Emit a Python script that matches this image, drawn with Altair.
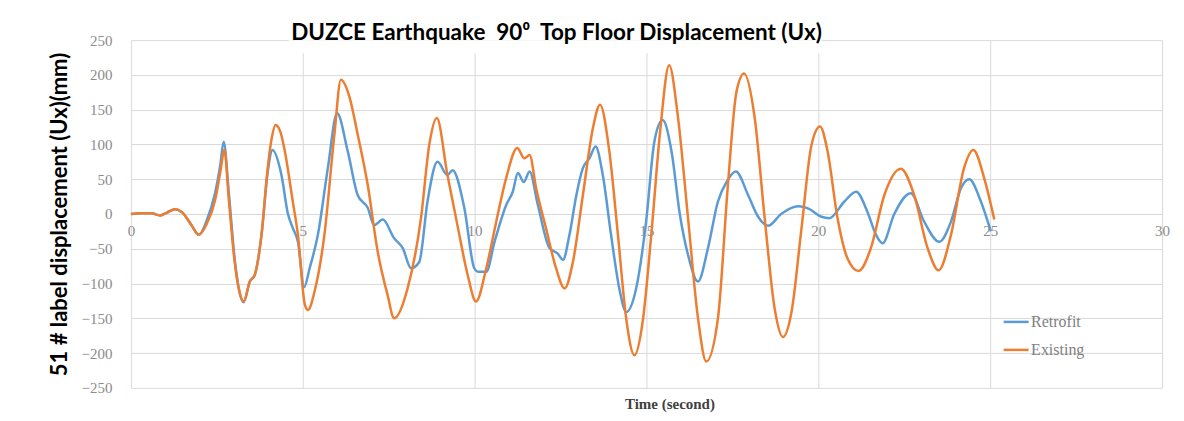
import altair as alt
import pandas as pd

# ---- data ----
retrofit_t = [0, 0.3, 0.6, 0.85, 1.05, 1.28, 1.5, 1.75, 1.98, 2.2,
              2.45, 2.6, 2.7, 2.85, 3.02, 3.15, 3.28, 3.46, 3.6, 3.8,
              3.98, 4.12, 4.38, 4.57, 4.71, 4.86, 5.04, 5.2, 5.44, 5.73,
              6.0, 6.31, 6.6, 6.89, 7.08, 7.33, 7.66, 7.91, 8.15, 8.39,
              8.63, 8.92, 9.21, 9.36, 9.7, 9.99, 10.1, 10.34, 10.58, 10.92,
              11.11, 11.26, 11.43, 11.6, 11.84, 12.18, 12.42, 12.57, 12.76, 12.96,
              13.15, 13.34, 13.52, 13.73, 13.97, 14.21, 14.41, 14.7, 14.99, 15.23,
              15.47, 15.73, 15.97, 16.21, 16.5, 16.79, 17.08, 17.33, 17.6, 17.96,
              18.25, 18.54, 18.92, 19.41, 19.7, 20.09, 20.32, 20.76, 21.1, 21.43,
              21.68, 21.87, 22.21, 22.69, 23.08, 23.52, 23.86, 24.15, 24.39, 24.73,
              25.02]
retrofit_v = [0, 1, 1, -2, 2, 7, 2, -15, -30, -10,
              30, 70, 104, 30, -65, -110, -127, -97, -88, -30,
              60, 92, 56, 0, -20, -40, -105, -78, -30, 66,
              145, 90, 27, 9, -16, -8, -35, -49, -78, -69,
              18, 75, 56, 63, 9, -78, -83, -83, -40, 13,
              32, 59, 46, 61, 13, -49, -57, -66, -30, 27,
              66, 80, 97, 56, -30, -107, -141, -107, -11, 104,
              135, 90, 0, -59, -97, -49, 18, 46, 61, 27,
              -4, -17, 0, 11, 8, -4, -6, 18, 32, 3,
              -30, -42, 0, 30, -11, -40, -11, 37, 50, 18,
              -25]

existing_t = [0, 0.3, 0.6, 0.85, 1.05, 1.28, 1.5, 1.75, 1.98, 2.2,
              2.45, 2.6, 2.72, 2.85, 3.02, 3.15, 3.28, 3.46, 3.6, 3.8,
              3.98, 4.1, 4.21, 4.35, 4.48, 4.71, 4.86, 5.06, 5.15, 5.35,
              5.63, 5.92, 6.11, 6.35, 6.6, 6.89, 7.18, 7.47, 7.66, 8.05,
              8.44, 8.68, 8.9, 9.21, 9.5, 9.8, 10.04, 10.34, 10.63, 10.92,
              11.24, 11.45, 11.6, 11.79, 12.08, 12.37, 12.62, 12.86, 13.15, 13.44,
              13.65, 13.92, 14.17, 14.41, 14.65, 14.89, 15.14, 15.4, 15.66, 15.92,
              16.21, 16.5, 16.74, 17.08, 17.37, 17.62, 17.84, 18.15, 18.44, 18.73,
              18.97, 19.22, 19.51, 19.8, 20.05, 20.27, 20.56, 20.85, 21.17, 21.53,
              21.92, 22.4, 22.79, 23.18, 23.5, 23.86, 24.24, 24.51, 24.83, 25.12]
existing_v = [0, 1, 1, -2, 2, 7, 2, -15, -30, -15,
              20, 60, 92, 20, -69, -110, -126, -97, -88, -30,
              66, 110, 128, 118, 90, 18, -30, -130, -138, -110,
              -30, 114, 193, 170, 114, 42, -54, -117, -150, -107,
              -6, 99, 138, 56, -16, -88, -126, -78, -11, 52,
              95, 80, 85, 37, -21, -78, -107, -69, 27, 123,
              157, 90, -30, -150, -203, -155, -30, 120, 214, 138,
              -6, -150, -212, -150, 42, 176, 202, 138, -6, -136,
              -177, -141, -21, 99, 126, 90, -6, -64, -82, -49,
              27, 65, 27, -49, -81, -30, 66, 92, 51, -8]

series_names = ["Retrofit", "Existing"]
series_colors = ["#5B9BD5", "#ED7D31"]
x_ticks = [0, 5, 10, 15, 20, 25, 30]
y_ticks = [-250, -200, -150, -100, -50, 0, 50, 100, 150, 200, 250]

title_text = "DUZCE Earthquake\u00a0\u00a090\u2070\u00a0\u00a0Top Floor Displacement (Ux)"
y_title = "51 # label displacement (Ux)(mm)"
x_title = "Time (second)"

df = pd.concat([
    pd.DataFrame({"t": retrofit_t, "v": retrofit_v, "series": series_names[0]}),
    pd.DataFrame({"t": existing_t, "v": existing_v, "series": series_names[1]}),
], ignore_index=True)

W, H = 1032, 348
label_font = "Liberation Serif"
label_color = "#8c8c8c"
grid_color = "#d9d9d9"

cover = alt.Chart(pd.DataFrame({"a": [0]})).mark_rect(color="white").encode(
    x=alt.value(158), x2=alt.value(692), y=alt.value(0), y2=alt.value(13)
)

lines = alt.Chart(df).mark_line(strokeWidth=2.5, interpolate="monotone").encode(
    x=alt.X("t:Q",
            scale=alt.Scale(domain=[0, 30], nice=False),
            axis=alt.Axis(values=x_ticks, offset=-174, ticks=False, domain=False,
                          labelFlush=False, labelPadding=10, labelFont=label_font,
                          labelFontSize=15, labelColor=label_color,
                          gridColor=grid_color, gridWidth=1,
                          title=x_title, titleFont=label_font, titleFontSize=15,
                          titleFontWeight="bold", titleColor="#404040",
                          titleX=539, titleY=190, titleBaseline="middle")),
    y=alt.Y("v:Q",
            scale=alt.Scale(domain=[-250, 250], nice=False),
            axis=alt.Axis(values=y_ticks, ticks=False, domain=False,
                          labelPadding=19, labelFont=label_font, labelFontSize=15,
                          labelColor=label_color, gridColor=grid_color, gridWidth=1,
                          title=y_title, titleFont="Lato", titleFontSize=22,
                          titleFontWeight="bold", titleColor="black",
                          titlePadding=9)),
    color=alt.Color("series:N",
                    scale=alt.Scale(domain=series_names, range=series_colors),
                    sort=series_names,
                    legend=alt.Legend(title=None, orient="none", legendX=872, legendY=268,
                                      symbolType="stroke", symbolSize=625,
                                      symbolStrokeWidth=2.5, labelFont=label_font,
                                      labelFontSize=16, labelColor="#7f7f7f",
                                      rowPadding=6, labelOffset=1)),
)

chart = alt.layer(cover, lines).properties(
    width=W, height=H,
    padding={"left": 123, "top": 32, "right": 14, "bottom": 30},
    autosize=alt.AutoSizeParams(type="none"),
    title=alt.TitleParams(text=title_text, font="Lato", fontSize=22.5, fontWeight="bold",
                          color="black", anchor="middle", frame="group", dx=-90,
                          offset=0, dy=11),
).configure_view(stroke=None)

chart.save("out.html", embed_options={"renderer": "svg", "actions": False})
